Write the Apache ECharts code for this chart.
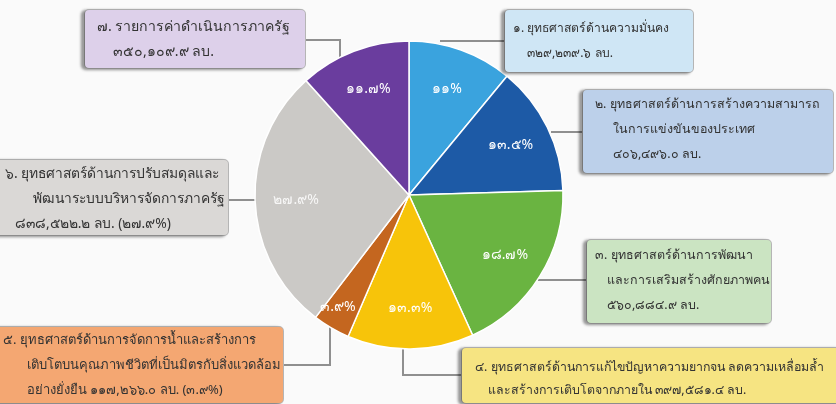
<!DOCTYPE html>
<html>
<head>
<meta charset="utf-8">
<script src="https://cdn.jsdelivr.net/npm/echarts@6/dist/echarts.min.js"></script>
<style>
  html, body { margin: 0; padding: 0; background: #fafafa; }
  #main { width: 836px; height: 404px; }
</style>
</head>
<body>
<div id="main"></div>
<script>
// งบประมาณรายจ่ายตามยุทธศาสตร์ (ล้านบาท)
const values = [329239.6, 406496.0, 560884.9, 397581.4, 117266.0, 838522.2, 350109.9];
const pctLabels = ['๑๑%', '๑๓.๕%', '๑๘.๗%', '๑๓.๓%', '๓.๙%', '๒๗.๙%', '๑๑.๗%'];
// ข้อความในกล่อง ({v} = มูลค่า)
const labelLines = [
  ['๑. ยุทธศาสตร์ด้านความมั่นคง', '{v} ลบ.'],
  ['๒. ยุทธศาสตร์ด้านการสร้างความสามารถ', 'ในการแข่งขันของประเทศ', '{v} ลบ.'],
  ['๓. ยุทธศาสตร์ด้านการพัฒนา', 'และการเสริมสร้างศักยภาพคน', '{v} ลบ.'],
  ['๔. ยุทธศาสตร์ด้านการแก้ไขปัญหาความยากจน ลดความเหลื่อมล้ำ', 'และสร้างการเติบโตจากภายใน {v} ลบ.'],
  ['๕. ยุทธศาสตร์ด้านการจัดการน้ำและสร้างการ', 'เติบโตบนคุณภาพชีวิตที่เป็นมิตรกับสิ่งแวดล้อม', 'อย่างยั่งยืน {v} ลบ. (๓.๙%)'],
  ['๖. ยุทธศาสตร์ด้านการปรับสมดุลและ', 'พัฒนาระบบบริหารจัดการภาครัฐ', '{v} ลบ. (๒๗.๙%)'],
  ['๗. รายการค่าดำเนินการภาครัฐ', '{v} ลบ.']
];

const sliceColors = ['#3aa3de', '#1d5aa6', '#6ab441', '#f7c40a', '#c4661f', '#cbc9c6', '#6a3d9e'];
const boxColors = ['#cfe6f5', '#bcd0ea', '#cbe4c2', '#f6e482', '#f4a772', '#dad8d6', '#ddd0ea'];

// ตำแหน่งกล่อง เส้นโยง และความกว้างบรรทัดแรก
const boxes = [
  { x: 505, y: 10, w: 188, h: 62, pt: 6, pl: 8, ind: [0, 14], tw: 157, line: [[440, 41], [470, 41], [505, 41]] },
  { x: 583, y: 90, w: 250, h: 83, pt: 2, pl: 12, ind: [0, 18, 18], tw: 225, line: [[551, 132], [570, 132], [583, 132]] },
  { x: 587, y: 240, w: 184, h: 83, pt: 3, pl: 8, ind: [0, 12, 12], tw: 158, line: [[538, 280], [560, 280], [587, 280]] },
  { x: 462, y: 348, w: 380, h: 55, pt: 8, pl: 13, ind: [0, 13], tw: 353, lh: 23, line: [[403, 349], [403, 375], [462, 375]] },
  { x: -8, y: 327, w: 291, h: 76, pt: 1, pl: 11, ind: [0, 24, 24], tw: 259, line: [[330, 327], [330, 365], [283, 365]] },
  { x: -8, y: 160, w: 236, h: 75, pt: 2, pl: 13, ind: [0, 28, 10], tw: 222, line: [[256, 200], [240, 200], [228, 200]] },
  { x: 85, y: 10, w: 220, h: 58, pt: 4, pl: 12, ind: [0, 16], tw: 193, line: [[340, 57], [340, 40], [305, 40]] }
];

function thaiNum(s) {
  return String(s).replace(/[0-9]/g, d => '๐๑๒๓๔๕๖๗๘๙'[+d]);
}
function fmt(v) {
  return thaiNum(v.toLocaleString('en-US', { minimumFractionDigits: 1, maximumFractionDigits: 1 }));
}

const chart = echarts.init(document.getElementById('main'));
const font = '"Noto Sans", "DejaVu Sans", sans-serif';
const ctx = document.createElement('canvas').getContext('2d');
ctx.font = '14px ' + font;

function lineText(i, k) {
  return labelLines[i][k].replace('{v}', fmt(values[i]));
}

const mainData = values.map((v, i) => {
  const b = boxes[i];
  const lh = b.lh || 25;
  // ขนาดตัวอักษรต่อกล่อง ให้บรรทัดแรกยาวใกล้เคียงภาพต้นฉบับ
  let fs = 14 * b.tw / ctx.measureText(lineText(i, 0)).width;
  fs = Math.max(12, Math.min(14.5, fs));
  const rich = {};
  b.ind.forEach((ind, k) => {
    rich['t' + k] = { fontSize: fs, lineHeight: lh, color: '#333', fontFamily: font, padding: [0, 0, 0, ind] };
  });
  return {
    value: v,
    itemStyle: { color: sliceColors[i] },
    label: {
      width: b.w - b.pl - 6,
      height: b.h - b.pt * 2,
      overflow: 'none',
      padding: [b.pt, 6, b.pt, b.pl],
      backgroundColor: boxColors[i],
      rich: rich
    }
  };
});

chart.setOption({
  backgroundColor: '#fafafa',
  animation: false,
  series: [
    {
      type: 'pie',
      center: [409, 195],
      radius: [0, 154],
      startAngle: 90,
      clockwise: true,
      silent: true,
      itemStyle: { borderColor: '#ffffff', borderWidth: 1.5 },
      label: {
        show: true,
        position: 'outside',
        align: 'left',
        verticalAlign: 'top',
        overflow: 'none',
        borderRadius: 4,
        borderColor: '#b5b5b5',
        borderWidth: 1,
        shadowColor: 'rgba(0,0,0,0.35)',
        shadowBlur: 3,
        shadowOffsetX: -3,
        shadowOffsetY: 1,
        formatter: function (p) {
          return labelLines[p.dataIndex].map((t, k) =>
            '{t' + k + '|' + lineText(p.dataIndex, k) + '}'
          ).join('\n');
        }
      },
      labelLine: {
        show: true,
        lineStyle: { color: '#8f8f8f', width: 2 }
      },
      labelLayout: function (p) {
        const b = boxes[p.dataIndex];
        return {
          x: b.x,
          y: b.y,
          align: 'left',
          verticalAlign: 'top',
          labelLinePoints: b.line
        };
      },
      data: mainData
    },
    {
      type: 'pie',
      center: [409, 195],
      radius: [66, 154],
      startAngle: 90,
      clockwise: true,
      silent: true,
      itemStyle: { color: 'transparent', borderWidth: 0 },
      label: {
        show: true,
        position: 'inside',
        color: '#ffffff',
        fontSize: 14,
        fontFamily: font,
        formatter: p => pctLabels[p.dataIndex]
      },
      labelLayout: function (p) {
        if (p.dataIndex === 4) return { dx: -14, dy: 14 };
        return {};
      },
      data: values.map((v, i) => ({
        value: v,
        label: i === 5 ? { color: 'rgba(255,255,255,0.85)' } : {}
      }))
    }
  ]
});
</script>
</body>
</html>
